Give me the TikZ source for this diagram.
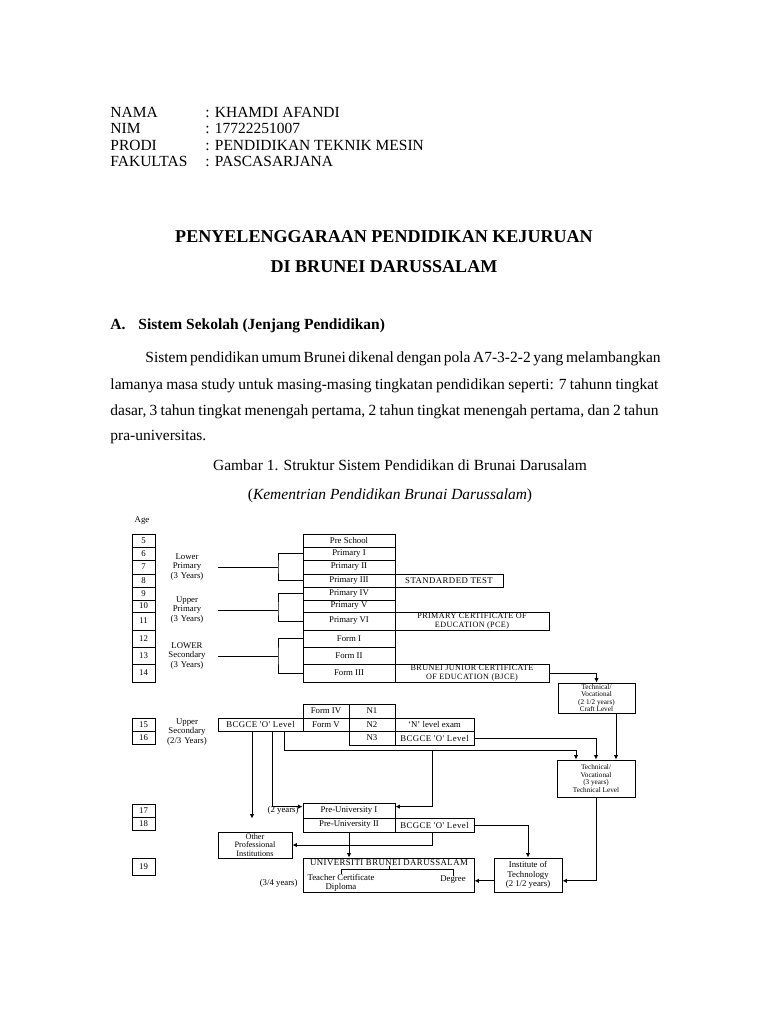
\documentclass[tikz,border=0pt]{standalone}
\usepackage{fontspec}
\setmainfont{Liberation Serif}
\newfontfamily\capsfont[LetterSpace=5]{Liberation Serif}
\usetikzlibrary{arrows.meta,positioning,calc}
\newcommand\dgfont{\fontsize{6.8}{7.2}\selectfont}
\newcommand\dgsmall{\fontsize{5.6}{5.9}\selectfont}
\newcommand\dgcert{\fontsize{6.3}{6.5}\selectfont}
\tikzset{
  pagetext/.style={inner sep=0pt, anchor=base west, font=\fontsize{12}{14}\selectfont},
  titletext/.style={inner sep=0pt, anchor=base, font=\fontsize{14}{16}\selectfont\bfseries},
  captext/.style={inner sep=0pt, anchor=base, font=\fontsize{12}{14}\selectfont},
  sz/.style 2 args={minimum width=#1*0.775pt, minimum height=#2*0.775pt},
  edbox/.style={draw, rectangle, inner sep=0pt, align=center, font=\dgfont},
  edlabel/.style={inner sep=0pt, align=center, font=\dgfont},
  edline/.style={line width=0.7pt},
  edarrow/.style={line width=0.7pt, -{Latex[length=3.5pt,width=3.5pt]}},
}
\begin{document}
\begin{tikzpicture}[x=0.775pt, y=-0.775pt, line width=0.7pt]
  \fill[white] (0,0) rectangle (768,1024);
  \useasboundingbox (0,0) rectangle (768,1024);

  % identity block
  \node[pagetext] (nama) at (110,117) {NAMA};
  \node[pagetext] (namaval) at (205,117) {: KHAMDI AFANDI};
  \node[pagetext] (nim) at (110,133) {NIM};
  \node[pagetext] (nimval) at (205,133) {: 17722251007};
  \node[pagetext] (prodi) at (110,150) {PRODI};
  \node[pagetext] (prodival) at (205,150) {: PENDIDIKAN TEKNIK MESIN};
  \node[pagetext] (fak) at (110,166) {FAKULTAS};
  \node[pagetext] (fakval) at (205,166) {: PASCASARJANA};

  % title and text
  \node[titletext] (title1) at (384,242) {PENYELENGGARAAN PENDIDIKAN KEJURUAN};
  \node[titletext] (title2) at (384,272) {DI BRUNEI DARUSSALAM};
  \node[pagetext, font=\fontsize{12}{14}\selectfont\bfseries] (secA) at (110,329) {A.};
  \node[pagetext, font=\fontsize{12}{14}\selectfont\bfseries] (secAtext) at (138,329)
    {Sistem Sekolah (Jenjang Pendidikan)};
  \node[pagetext] (para1) at (145,362)
    {\makebox[397.6pt][s]{Sistem pendidikan umum Brunei dikenal dengan pola A7-3-2-2 yang melambangkan}};
  \node[pagetext] (para2) at (110,389)
    {\makebox[424.7pt][s]{lamanya masa study untuk masing-masing tingkatan pendidikan seperti: 7 tahunn tingkat}};
  \node[pagetext] (para3) at (110,415)
    {\makebox[424.7pt][s]{dasar, 3 tahun tingkat menengah pertama, 2 tahun tingkat menengah pertama, dan 2 tahun}};
  \node[pagetext] (para4) at (110,440) {pra-universitas.};
  \node[captext] (cap1) at (400,470) {Gambar 1. Struktur Sistem Pendidikan di Brunai Darusalam};
  \node[captext] (cap2) at (390,499) {(\textit{Kementrian Pendidikan Brunai Darussalam})};

  % age column
  \node[edlabel] (agehead) at (142,521) {Age};
  \foreach \a/\yc/\h in {5/540.5/13, 6/553.5/13, 7/567/14, 8/580.5/13, 9/593.5/13,
      10/606/12, 11/621/18, 12/638.5/17, 13/655.5/17, 14/673/18,
      15/724.5/13, 16/737.5/13, 17/810.5/13, 18/823.5/13, 19/866.5/17}
    \node[edbox, sz={23}{\h}] (age\a) at (143.5,\yc) {\a};

  % school column
  \foreach \n/\t/\yc/\h in {pre/Pre School/540.5/13, p1/Primary I/553.5/13,
      p2/Primary II/567/14, p3/Primary III/580.5/13, p4/Primary IV/593.5/13,
      p5/Primary V/606/12, p6/Primary VI/621/18, f1/Form I/638.5/17,
      f2/Form II/655.5/17, f3/Form III/673/18}
    \node[edbox, sz={92}{\h}] (\n) at (349,\yc) {\t};

  \node[edbox, sz={108}{13}, font=\dgfont\capsfont] (stdtest) at (449,580.5) {STANDARDED TEST};
  \node[edbox, sz={154}{18}, font=\dgcert\capsfont] (pce) at (472,621)
    {PRIMARY CERTIFICATE OF\\EDUCATION (PCE)};
  \node[edbox, sz={154}{18}, font=\dgcert\capsfont] (bjce) at (472,673)
    {BRUNEI JUNIOR CERTIFICATE\\OF EDUCATION (BJCE)};

  % stage labels and brackets
  \coordinate (xbr) at (278,0);
  \node[edlabel, text width=48pt] (lowprim) at (187,567) {Lower\\Primary\\(3 Years)};
  \node[edlabel, text width=48pt] (upprim) at (187,610) {Upper\\Primary\\(3 Years)};
  \node[edlabel, text width=48pt] (lowsec) at (187,656) {LOWER\\Secondary\\(3 Years)};
  \node[edlabel, text width=48pt] (upsec) at (187,732) {Upper\\Secondary\\(2/3 Years)};
  \draw[edline] (p1.west) -| (lowprim.east -| xbr) |- (p3.west);
  \draw[edline] (lowprim.east) -- (lowprim.east -| xbr);
  \draw[edline] (p4.west) -| (upprim.east -| xbr) |- (p6.west);
  \draw[edline] (upprim.east) -- (upprim.east -| xbr);
  \draw[edline] (f1.west) -| (lowsec.east -| xbr) |- (f3.west);
  \draw[edline] (lowsec.east) -- (lowsec.east -| xbr);

  % upper secondary
  \node[edbox, sz={85}{13}, font=\dgfont\capsfont] (bcgce1) at (260.5,724.5) {BCGCE 'O' Level};
  \node[edbox, sz={46}{14}] (form4) at (326,711) {Form IV};
  \node[edbox, sz={46}{14}] (n1) at (372,711) {N1};
  \node[edbox, sz={46}{13}] (form5) at (326,724.5) {Form V};
  \node[edbox, sz={46}{13}] (n2) at (372,724.5) {N2};
  \node[edbox, sz={79}{13}] (nexam) at (434.5,724.5) {`N' level exam};
  \node[edbox, sz={46}{14}] (n3) at (372,738) {N3};
  \node[edbox, sz={79}{14}, font=\dgfont\capsfont] (bcgce2) at (434.5,738) {BCGCE 'O' Level};

  \node[edbox, sz={77}{30}, font=\dgsmall] (craft) at (596.5,698)
    {Technical/\\Vocational\\(2 1/2 years)\\Craft Level};
  \node[edbox, sz={78}{37}, font=\dgsmall] (techlvl) at (596,778.5)
    {Technical/\\Vocational\\(3 years)\\Technical Level};

  % pre-university and tertiary
  \node[edbox, sz={92}{15}] (preu1) at (349,810.5) {Pre-University I};
  \node[edbox, sz={92}{14}] (preu2) at (349,825) {Pre-University II};
  \node[edbox, sz={79}{14}, font=\dgfont\capsfont] (bcgce3) at (434.5,825) {BCGCE 'O' Level};
  \node[edbox, sz={74}{26}, font=\fontsize{6.4}{6.6}\selectfont] (otherprof) at (255,845)
    {Other\\Professional\\Institutions};
  \node[edbox, sz={171}{34}] (ubd) at (388.5,875) {};
  \node[edlabel, font=\dgfont\capsfont] (ubdtitle) at (389,863) {UNIVERSITI BRUNEI DARUSSALAM};
  \node[edlabel] (teacher) at (341,883) {Teacher Certificate\\Diploma};
  \node[edlabel] (degree) at (453,880) {Degree};
  \node[edbox, sz={68}{34}] (itech) at (528,875) {Institute of\\Technology\\(2 1/2 years)};
  \node[edlabel, anchor=east] (twoyrs) at (299,810) {(2 years)};
  \node[edlabel, anchor=east] (threeyrs) at (298,883) {(3/4 years)};

  % connectors
  \coordinate (xa) at (252,0);
  \coordinate (xb) at (272,0);
  \coordinate (xc) at (284,0);
  \coordinate (xd) at (432,0);
  \coordinate (xf) at (576,0);
  \coordinate (xh) at (616,0);
  \coordinate (ysplit) at (0,750);
  \draw[edarrow] (bjce.east) -| (craft.north);
  \draw[edarrow] (craft.south -| xh) -- (techlvl.north -| xh);
  \draw[edarrow] (bcgce2.east) -| (techlvl.north);
  \draw[edarrow] (bcgce1.south -| xc) |- (xf |- ysplit) -- (techlvl.north -| xf);
  \draw[edarrow] (xd |- ysplit) |- ([yshift=3pt]preu1.east);
  \draw[edarrow] (bcgce1.south -| xb) |- ([yshift=3pt]preu1.west);
  \draw[edarrow] (bcgce1.south -| xa) -- ($(otherprof.north -| xa)+(0,-13)$);
  \draw[edarrow] (bcgce3.east) -| (itech.north);
  \draw[edarrow] (bcgce3.south -| xd) |- (otherprof.east);
  \draw[edarrow] (preu2.south) -- (preu2.south |- ubd.north);
  \draw[edarrow] (techlvl.south) |- ([yshift=-4.5pt]itech.east);
  \draw[edarrow] ([yshift=-4.5pt]itech.west) -- ([yshift=-4.5pt]ubd.east);
  \draw[edline] (ubdtitle.south) -- ++(0,3) coordinate (ubdfork);
  \draw[edline] (teacher.north) |- (ubdfork) -| (degree.north);
\end{tikzpicture}
\end{document}
